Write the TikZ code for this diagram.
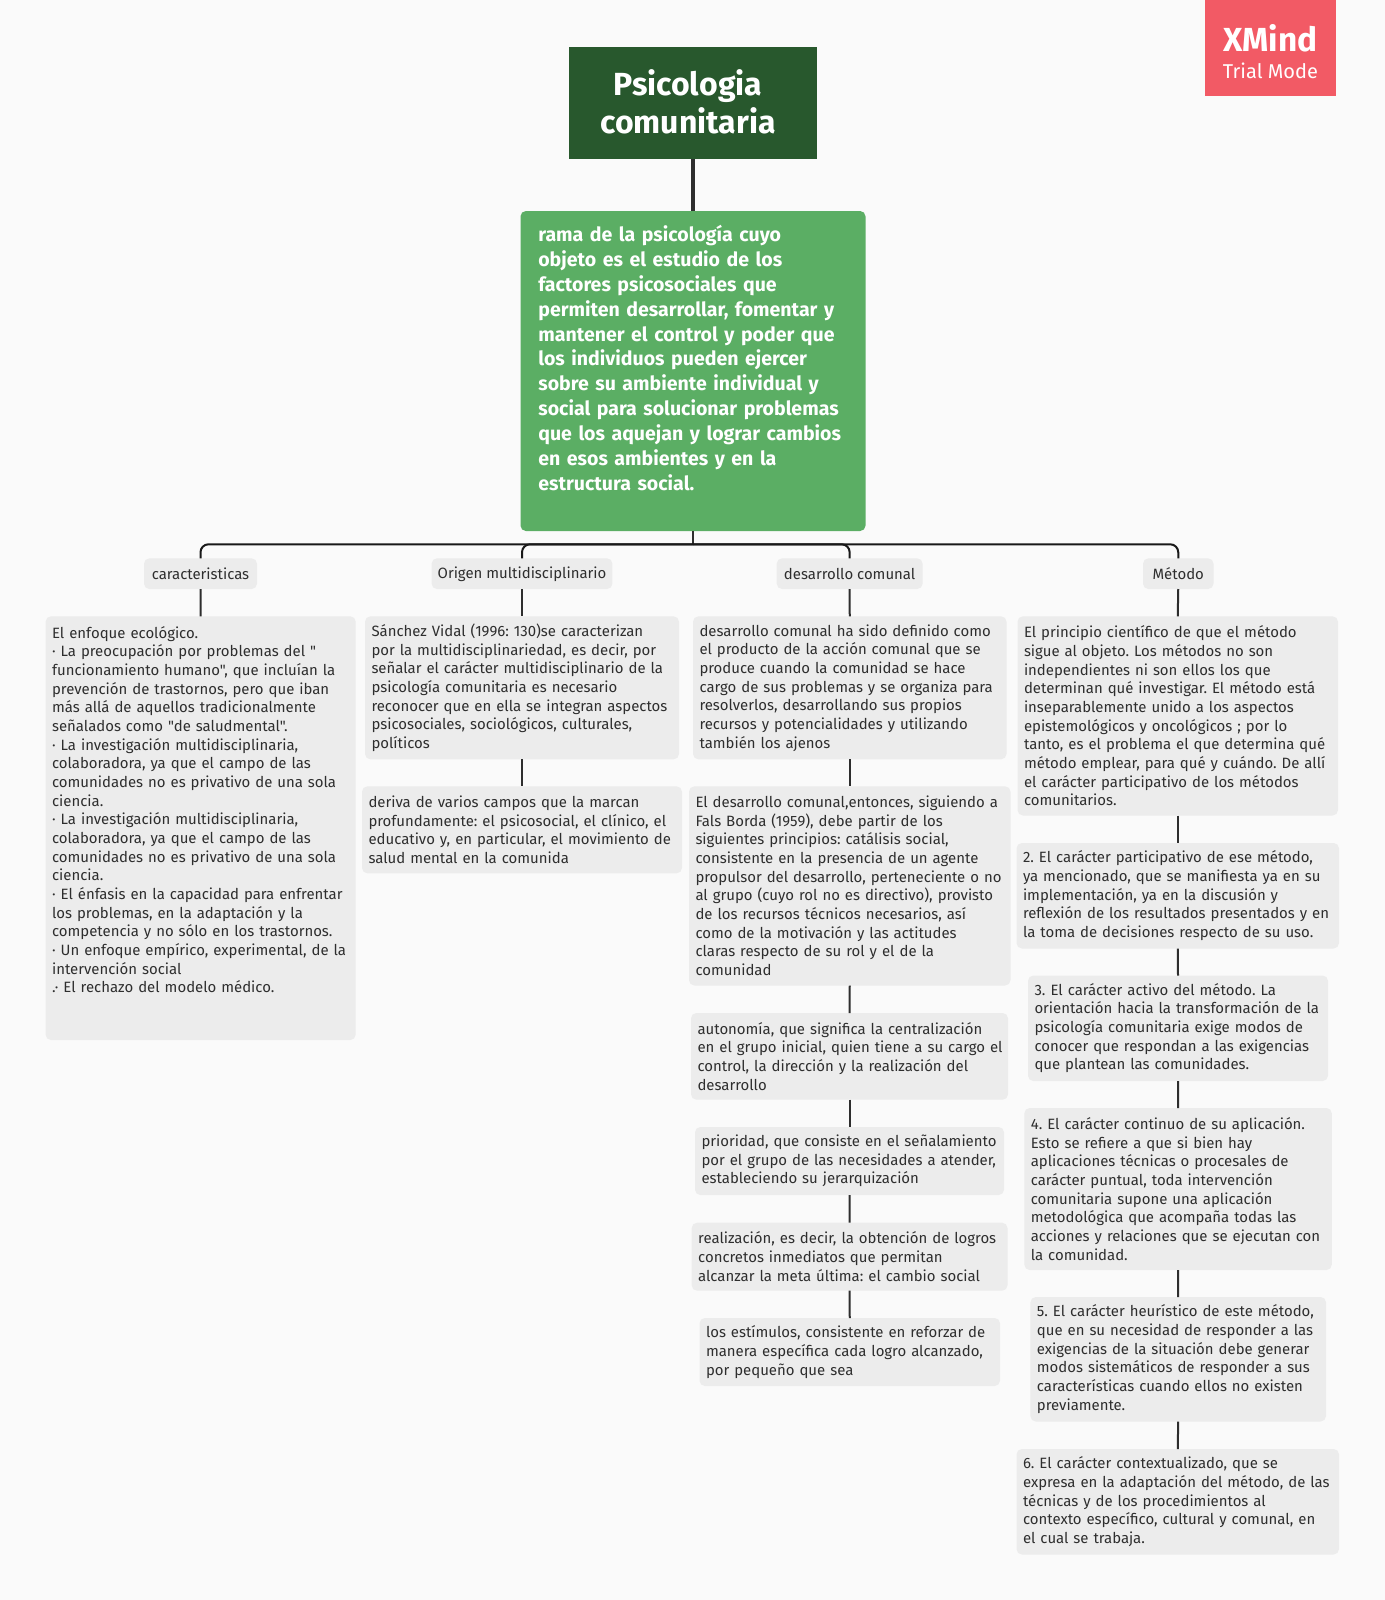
\documentclass[tikz,border=0pt]{standalone}
\usepackage{fontspec}
\setmainfont{Fira Sans}[Ligatures=TeXOff]
\frenchspacing
\definecolor{bgc}{HTML}{FAFAFA}
\definecolor{boxc}{HTML}{ECECEC}
\definecolor{rootc}{HTML}{28582D}
\definecolor{greenc}{HTML}{5BAE64}
\definecolor{redc}{HTML}{F25A65}
\definecolor{inkc}{HTML}{2E2E2E}
\tikzset{
  basebox/.style={inner sep=0pt,outer sep=0pt,rounded corners=4pt,text=inkc},
  greybox/.style={basebox,fill=boxc,align=left,font=\fontsize{11.2pt}{14pt}\selectfont},
  greenbox/.style={basebox,fill=greenc,text=white,align=left,font=\fontsize{14.65pt}{18.65pt}\selectfont\bfseries},
  rootbox/.style={inner sep=0pt,outer sep=0pt,fill=rootc,text=white,align=center,font=\fontsize{24pt}{28.5pt}\selectfont\bfseries},
  badge/.style={inner sep=0pt,outer sep=0pt,fill=redc,text=white,align=center},
  link/.style={draw=inkc,line width=1.5pt},
  rootlink/.style={draw=inkc,line width=2.5pt},
  bus/.style={draw=black!90,line width=1.5pt,rounded corners=6pt},
}
\newcommand{\tbox}[6]{%
  \pgfmathsetmacro{\bw}{(#4-#2)*0.75}\pgfmathsetmacro{\bh}{(#5-#3)*0.75}\pgfmathsetmacro{\tw}{(#4-#2-13)*0.75}%
  \node[greybox,minimum width=\bw pt,minimum height=\bh pt,text width=\tw pt] (#1) at ({(#2+#4)/2},{(#3+#5)/2}) {#6};}
\newcommand{\lbox}[6]{%
  \pgfmathsetmacro{\bw}{(#4-#2)*0.75}\pgfmathsetmacro{\bh}{(#5-#3)*0.75}%
  \node[greybox,align=center,minimum width=\bw pt,minimum height=\bh pt] (#1) at ({(#2+#4)/2},{(#3+#5)/2}) {\rule{0pt}{9.5pt}#6};}
\begin{document}
\begin{tikzpicture}[x=0.75pt,y=-0.75pt]
\path[use as bounding box,fill=bgc] (0,0) rectangle (1385,1600);
% badge
\node[badge,minimum width=98.5pt,minimum height=72pt] (trial) at (1270.5,48) {{\fontsize{25pt}{27pt}\selectfont\bfseries\rule{0pt}{26pt}XMind}\\[7pt]{\fontsize{15pt}{17pt}\selectfont Trial Mode}};
% root
\node[rootbox,minimum width=186pt,minimum height=84.5pt] (root) at (693,102.9) {Psicologia\hspace*{7.5pt}\\comunitaria\hspace*{7.5pt}\rule[-1.5pt]{0pt}{1pt}};
% green
\node[greenbox,minimum width=258.75pt,minimum height=240pt,text width=232pt] (def) at (693,371) {rama de la psicología cuyo\\objeto es el estudio de los\\factores psicosociales que\\permiten desarrollar, fomentar y\\mantener el control y poder que\\los individuos pueden ejercer\\sobre su ambiente individual y\\social para solucionar problemas\\que los aquejan y lograr cambios\\en esos ambientes y en la\\estructura social.\\~\rule[-1.2pt]{0pt}{1pt}};
% labels
\lbox{la}{144}{558.3}{257}{589}{caracteristicas}
\lbox{lb}{431.6}{558.3}{612.4}{589}{Origen multidisciplinario}
\lbox{lc}{776.7}{558.3}{922.6}{589}{desarrollo comunal}
\lbox{ld}{1143}{558.3}{1213.5}{589}{Método}
% column 1
\tbox{a1}{45.6}{616.3}{355.7}{1040}{El enfoque ecológico.\\· La preocupación por problemas del "\\funcionamiento humano", que incluían la\\prevención de trastornos, pero que iban\\más allá de aquellos tradicionalmente\\señalados como "de saludmental".\\· La investigación multidisciplinaria,\\colaboradora, ya que el campo de las\\comunidades no es privativo de una sola\\ciencia.\\· La investigación multidisciplinaria,\\colaboradora, ya que el campo de las\\comunidades no es privativo de una sola\\ciencia.\\· El énfasis en la capacidad para enfrentar\\los problemas, en la adaptación y la\\competencia y no sólo en los trastornos.\\· Un enfoque empírico, experimental, de la\\intervención social\\.· El rechazo del modelo médico.\\~\\~}
% column 2
\tbox{b1}{365}{616.3}{679}{759.3}{Sánchez Vidal (1996: 130)se caracterizan\\por la multidisciplinariedad, es decir, por\\señalar el carácter multidisciplinario de la\\psicología comunitaria es necesario\\reconocer que en ella se integran aspectos\\psicosociales, sociológicos, culturales,\\políticos}
\tbox{b2}{362}{786.3}{682}{873.3}{deriva de varios campos que la marcan\\profundamente: el psicosocial, el clínico, el\\educativo y, en particular, el movimiento de\\salud mental en la comunida}
% column 3
\tbox{c1}{693}{616.3}{1006.5}{759.3}{desarrollo comunal ha sido definido como\\el producto de la acción comunal que se\\produce cuando la comunidad se hace\\cargo de sus problemas y se organiza para\\resolverlos, desarrollando sus propios\\recursos y potencialidades y utilizando\\también los ajenos}
\tbox{c2}{689}{786.3}{1010.5}{985.5}{El desarrollo comunal,entonces, siguiendo a\\Fals Borda (1959), debe partir de los\\siguientes principios: catálisis social,\\consistente en la presencia de un agente\\propulsor del desarrollo, perteneciente o no\\al grupo (cuyo rol no es directivo), provisto\\de los recursos técnicos necesarios, así\\como de la motivación y las actitudes\\claras respecto de su rol y el de la\\comunidad}
\tbox{c3}{691}{1013}{1008}{1099.7}{autonomía, que significa la centralización\\\mbox{en el grupo inicial, quien tiene a su cargo el}\\control, la dirección y la realización del\\desarrollo}
\tbox{c4}{695}{1127}{1004}{1195}{prioridad, que consiste en el señalamiento\\por el grupo de las necesidades a atender,\\estableciendo su jerarquización}
\tbox{c5}{691.7}{1222.7}{1007.5}{1290.7}{realización, es decir, la obtención de logros\\concretos inmediatos que permitan\\alcanzar la meta última: el cambio social}
\tbox{c6}{699.5}{1318}{1000}{1386}{los estímulos, consistente en reforzar de\\manera específica cada logro alcanzado,\\por pequeño que sea}
% column 4
\tbox{d1}{1017.5}{616.3}{1338}{815.5}{El principio científico de que el método\\sigue al objeto. Los métodos no son\\independientes ni son ellos los que\\determinan qué investigar. El método está\\inseparablemente unido a los aspectos\\epistemológicos y oncológicos ; por lo\\tanto, es el problema el que determina qué\\método emplear, para qué y cuándo. De allí\\el carácter participativo de los métodos\\comunitarios.}
\tbox{d2}{1016.5}{843}{1339}{948.5}{2. El carácter participativo de ese método,\\ya mencionado, que se manifiesta ya en su\\implementación, ya en la discusión y\\reflexión de los resultados presentados y en\\la toma de decisiones respecto de su uso.}
\tbox{d3}{1028}{975.5}{1328}{1081}{3. El carácter activo del método. La\\orientación hacia la transformación de la\\psicología comunitaria exige modos de\\conocer que respondan a las exigencias\\que plantean las comunidades.}
\tbox{d4}{1024.3}{1108}{1331.8}{1270}{4. El carácter continuo de su aplicación.\\Esto se refiere a que si bien hay\\aplicaciones técnicas o procesales de\\carácter puntual, toda intervención\\comunitaria supone una aplicación\\metodológica que acompaña todas las\\acciones y relaciones que se ejecutan con\\la comunidad.}
\tbox{d5}{1030.4}{1297}{1326}{1421.5}{5. El carácter heurístico de este método,\\que en su necesidad de responder a las\\exigencias de la situación debe generar\\modos sistemáticos de responder a sus\\características cuando ellos no existen\\previamente.}
\tbox{d6}{1016.5}{1449}{1339}{1554.5}{6. El carácter contextualizado, que se\\expresa en la adaptación del método, de las\\técnicas y de los procedimientos al\\contexto específico, cultural y comunal, en\\el cual se trabaja.}
% connectors
\draw[rootlink] (root.south) -- (def.north);
\coordinate (hub) at (693,544.3);
\draw[link] (def.south) -- (hub);
\draw[bus] (hub) -| (la.north);
\draw[bus] (hub) -| (lb.north);
\draw[bus] (hub) -| (lc.north);
\draw[bus] (hub) -| (ld.north);
\draw[link] (la.south) -- (a1.north);
\draw[link] (lb.south) -- (b1.north);
\draw[link] (b1.south) -- (b2.north);
\draw[link] (lc.south) -- (c1.north);
\draw[link] (c1.south) -- (c2.north);
\draw[link] (c2.south) -- (c3.north);
\draw[link] (c3.south) -- (c4.north);
\draw[link] (c4.south) -- (c5.north);
\draw[link] (c5.south) -- (c6.north);
\draw[link] (ld.south) -- (d1.north);
\draw[link] (d1.south) -- (d2.north);
\draw[link] (d2.south) -- (d3.north);
\draw[link] (d3.south) -- (d4.north);
\draw[link] (d4.south) -- (d5.north);
\draw[link] (d5.south) -- (d6.north);
\end{tikzpicture}
\end{document}
